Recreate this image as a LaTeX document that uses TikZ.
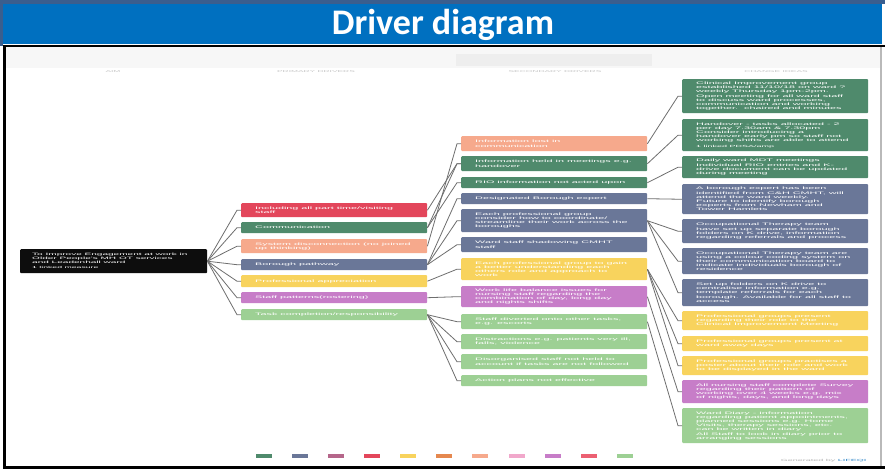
\documentclass[tikz,border=0pt]{standalone}
\usepackage{fontspec}
\setmainfont{Liberation Sans}
\newfontfamily\boxfont[FakeStretch=3.0]{Liberation Sans}
\newfontfamily\titlefont{Carlito}

\definecolor{titleblue}{HTML}{0070C0}
\definecolor{topband}{HTML}{3A5E8E}
\definecolor{aimblack}{HTML}{0D0D0D}
\definecolor{pred}{HTML}{E3465B}
\definecolor{dgreen}{HTML}{4F8A6C}
\definecolor{salmon}{HTML}{F6A98C}
\definecolor{slate}{HTML}{6A7798}
\definecolor{yellow}{HTML}{F8D35D}
\definecolor{purple}{HTML}{C77DC8}
\definecolor{lgreen}{HTML}{9DD094}
\definecolor{mauve}{HTML}{B5668A}
\definecolor{orange}{HTML}{E5884F}
\definecolor{pink}{HTML}{F1A8CB}
\definecolor{rose}{HTML}{EC6072}
\definecolor{lifeblue}{HTML}{2E86C8}
\definecolor{linkgray}{HTML}{6E6E6E}

\begin{document}
\begin{tikzpicture}[x=1pt, y=-1pt,
    box/.style = {anchor=north west, inner xsep=14pt, inner ysep=0pt, align=flush left, text=white,
                  text width=158pt, rounded corners=1pt, font=\boxfont\fontsize{3.6}{4.2}\selectfont},
    head/.style = {text=gray!45, font=\boxfont\fontsize{2.8}{3}\selectfont},
    link/.style = {draw=linkgray, line width=0.8pt}]
    \useasboundingbox (0,0) rectangle (885,469);

    % frame and title
    \fill[white] (0,0) rectangle (885,469);
    \fill[topband] (0,0) rectangle (885,4);
    \fill[topband] (0,0) rectangle (3,46);
    \fill[titleblue] (3,4) rectangle (882,44);
    \fill[black] (3,44.5) rectangle (885,46.5);
    \fill[black] (3,46) rectangle (6,469);
    \fill[black] (3,466) rectangle (885,469);
    \fill[gray!55] (880,46.5) rectangle (882,466);
    \fill[gray!6] (6,46.5) rectangle (880,68);
    \fill[gray!13] (456,54) rectangle (652,66);
    \node[text=white, font=\titlefont\bfseries\fontsize{36}{40}\selectfont] (title) at (443,25) {Driver diagram};

    % column headers
    \node[head] (hAim) at (113,72) {AIM};
    \node[head] (hPrim) at (316,72) {PRIMARY DRIVERS};
    \node[head] (hSec) at (555,72) {SECONDARY DRIVERS};
    \node[head] (hIdea) at (776,72) {CHANGE IDEAS};

    % aim
    \node[box, fill=aimblack, minimum height=24pt, inner xsep=12pt, text width=163pt,
          font=\boxfont\fontsize{3.35}{4}\selectfont] (aim) at (20,249)
        {To Improve Engagement at work in\\Older People's MH OT services\\and Leadenhall ward\\[1pt]{\fontsize{2.9}{3.4}\selectfont 1 linked measure}};

    % primary drivers
    \node[box, fill=pred, minimum height=14pt] (p1) at (241,203) {Including all part time/visiting\\staff};
    \node[box, fill=dgreen, minimum height=11pt] (p2) at (241,222) {Communication};
    \node[box, fill=salmon, minimum height=14pt] (p3) at (241,239) {System disconnection (no joined\\up thinking)};
    \node[box, fill=slate, minimum height=11pt] (p4) at (241,259) {Borough pathway};
    \node[box, fill=yellow, minimum height=12pt] (p5) at (241,275) {Professional appreciation};
    \node[box, fill=purple, minimum height=11pt] (p6) at (241,292) {Staff patterns(rostering)};
    \node[box, fill=lgreen, minimum height=11pt] (p7) at (241,309) {Task completion/responsibility};

    % secondary drivers
    \node[box, fill=salmon, minimum height=15pt] (s1) at (461,136) {Information lost in\\communication};
    \node[box, fill=dgreen, minimum height=15pt] (s2) at (461,156) {Information held in meetings e.g.\\handover};
    \node[box, fill=dgreen, minimum height=11pt] (s3) at (461,177) {RIO information not acted upon};
    \node[box, fill=slate, minimum height=11pt] (s4) at (461,193) {Designated Borough expert};
    \node[box, fill=slate, minimum height=23pt] (s5) at (461,209) {Each professional group\\consider how to coordinate/\\streamline their work across the\\boroughs};
    \node[box, fill=slate, minimum height=15pt] (s6) at (461,237) {Ward staff shadowing CMHT\\staff};
    \node[box, fill=yellow, minimum height=22pt] (s7) at (461,258) {Each professional group to gain\\a better understanding each\\others role and approach to\\work};
    \node[box, fill=purple, minimum height=21pt] (s8) at (461,286) {Work life balance issues for\\nursing staff regarding the\\combination of day, long day\\and nights shifts};
    \node[box, fill=lgreen, minimum height=15pt] (s9) at (461,314) {Staff diverted onto other tasks,\\e.g. escorts};
    \node[box, fill=lgreen, minimum height=15pt] (s10) at (461,334) {Distractions e.g. patients very ill,\\falls, violence};
    \node[box, fill=lgreen, minimum height=15pt] (s11) at (461,354) {Disorganised staff not held to\\account if tasks are not followed};
    \node[box, fill=lgreen, minimum height=11pt] (s12) at (461,375) {Action plans not effective};

    % change ideas
    \node[box, fill=dgreen, minimum height=34pt] (c1) at (682,79) {Clinical Improvement group\\established 11/10/18 on ward ?\\weekly Thursday 1pm-2pm.\\Open meeting for all ward staff\\to discuss ward processes,\\communication and working\\together.\ \ chaired and minutes};
    \node[box, fill=dgreen, minimum height=32pt] (c2) at (682,119) {Handover - tasks allocated - 2\\per day 7.30am \& 7.30pm\\Consider introducing a\\handover early pm so staff not\\working shifts are able to attend\\[1pt]{\fontsize{3}{3.5}\selectfont 1 linked PDSA/amp}};
    \node[box, fill=dgreen, minimum height=22pt] (c3) at (682,156) {Daily ward MDT meetings\\Individual RIO entries and K-\\drive document can be updated\\during meeting};
    \node[box, fill=slate, minimum height=30pt] (c4) at (682,184) {A borough expert has been\\identified from C\&H CMHT, will\\attend the ward weekly.\\Future to identify borough\\experts from Newham and\\Tower Hamlets};
    \node[box, fill=slate, minimum height=24pt] (c5) at (682,219) {Occupational Therapy team\\have set up separate borough\\folders on K drive, information\\regarding referrals and process};
    \node[box, fill=slate, minimum height=26pt] (c6) at (682,248) {Occupational Therapy team are\\using a colour coding system on\\their communication board to\\indicate individuals borough of\\residence};
    \node[box, fill=slate, minimum height=27pt] (c7) at (682,279) {Set up folders on K drive to\\centralise information e.g.\\template referrals for each\\borough. Available for all staff to\\access};
    \node[box, fill=yellow, minimum height=19pt] (c8) at (682,311) {Professional groups present\\regarding their role to the\\Clinical Improvement Meeting};
    \node[box, fill=yellow, minimum height=15pt] (c9) at (682,336) {Professional groups present at\\ward away days};
    \node[box, fill=yellow, minimum height=19pt] (c10) at (682,356) {Professional groups practises a\\poster about their role and work\\to be displayed in the ward};
    \node[box, fill=purple, minimum height=23pt] (c11) at (682,380) {All nursing staff complete Survey\\regarding their pattern of\\working over 4 weeks e.g. mix\\of nights, days, and long days};
    \node[box, fill=lgreen, minimum height=35pt] (c12) at (682,408) {Ward Diary - information\\regarding patient appointments,\\planned sessions e.g. Home\\Visits, therapy sessions, etc.\\can be written in diary\\All Staff to look in diary prior to\\arranging sessions};

    % aim to primary drivers
    \draw[link] (aim.east) -- ([xshift=-4pt]p1.west) -- (p1.west);
    \draw[link] (aim.east) -- ([xshift=-4pt]p2.west) -- (p2.west);
    \draw[link] (aim.east) -- ([xshift=-4pt]p3.west) -- (p3.west);
    \draw[link] (aim.east) -- ([xshift=-4pt]p4.west) -- (p4.west);
    \draw[link] (aim.east) -- ([xshift=-4pt]p5.west) -- (p5.west);
    \draw[link] (aim.east) -- ([xshift=-4pt]p6.west) -- (p6.west);
    \draw[link] (aim.east) -- ([xshift=-4pt]p7.west) -- (p7.west);

    % primary to secondary drivers
    \draw[link] (p1.east) -- ([xshift=-4pt]s2.west) -- (s2.west);
    \draw[link] (p2.east) -- ([xshift=-4pt]s2.west) -- (s2.west);
    \draw[link] (p2.east) -- ([xshift=-4pt]s3.west) -- (s3.west);
    \draw[link] (p3.east) -- ([xshift=-4pt]s1.west) -- (s1.west);
    \draw[link] (p4.east) -- ([xshift=-4pt]s4.west) -- (s4.west);
    \draw[link] (p4.east) -- ([xshift=-4pt]s5.west) -- (s5.west);
    \draw[link] (p4.east) -- ([xshift=-4pt]s6.west) -- (s6.west);
    \draw[link] (p5.east) -- ([xshift=-4pt]s7.west) -- (s7.west);
    \draw[link] (p6.east) -- ([xshift=-4pt]s8.west) -- (s8.west);
    \draw[link] (p7.east) -- ([xshift=-4pt]s9.west) -- (s9.west);
    \draw[link] (p7.east) -- ([xshift=-4pt]s10.west) -- (s10.west);
    \draw[link] (p7.east) -- ([xshift=-4pt]s11.west) -- (s11.west);
    \draw[link] (p7.east) -- ([xshift=-4pt]s12.west) -- (s12.west);

    % secondary drivers to change ideas
    \draw[link] (s1.east) -- ([xshift=-4pt]c1.west) -- (c1.west);
    \draw[link] (s2.east) -- ([xshift=-4pt]c2.west) -- (c2.west);
    \draw[link] (s3.east) -- ([xshift=-4pt]c3.west) -- (c3.west);
    \draw[link] (s4.east) -- ([xshift=-4pt]c4.west) -- (c4.west);
    \draw[link] (s5.east) -- ([xshift=-4pt]c5.west) -- (c5.west);
    \draw[link] (s5.east) -- ([xshift=-4pt]c6.west) -- (c6.west);
    \draw[link] (s5.east) -- ([xshift=-4pt]c7.west) -- (c7.west);
    \draw[link] (s7.east) -- ([xshift=-4pt]c8.west) -- (c8.west);
    \draw[link] (s7.east) -- ([xshift=-4pt]c9.west) -- (c9.west);
    \draw[link] (s7.east) -- ([xshift=-4pt]c10.west) -- (c10.west);
    \draw[link] (s8.east) -- ([xshift=-4pt]c11.west) -- (c11.west);
    \draw[link] (s9.east) -- ([xshift=-4pt]c12.west) -- (c12.west);

    % colour key
    \fill[dgreen] (256,454) rectangle ++(16,4);
    \fill[slate] (292,454) rectangle ++(16,4);
    \fill[mauve] (328,454) rectangle ++(16,4);
    \fill[pred] (364,454) rectangle ++(16,4);
    \fill[yellow] (400,454) rectangle ++(16,4);
    \fill[orange] (436,454) rectangle ++(16,4);
    \fill[salmon] (472,454) rectangle ++(16,4);
    \fill[pink] (509,454) rectangle ++(16,4);
    \fill[purple] (545,454) rectangle ++(16,4);
    \fill[rose] (581,454) rectangle ++(16,4);
    \fill[lgreen] (617,454) rectangle ++(16,4);

    \node[font=\boxfont\fontsize{3}{3.5}\selectfont, anchor=east] (footer) at (870,461)
        {\textcolor{gray!60}{Generated by} \textcolor{lifeblue}{LIFEQI}};
\end{tikzpicture}
\end{document}
